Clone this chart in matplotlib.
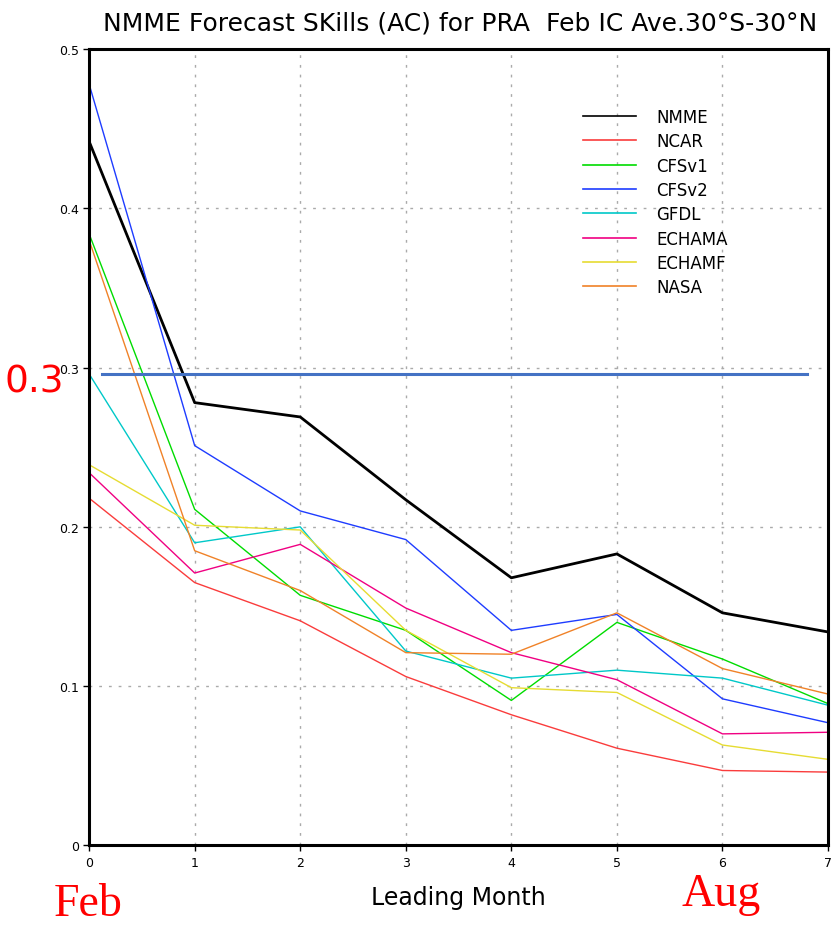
import numpy as np
import matplotlib.pyplot as plt

plt.rcParams['font.family'] = ['DejaVu Sans']

# lead months and AC skill per model
leads = [0, 1, 2, 3, 4, 5, 6, 7]
nmme = [0.442, 0.278, 0.269, 0.217, 0.168, 0.183, 0.146, 0.134]
ncar = [0.218, 0.165, 0.141, 0.106, 0.082, 0.061, 0.047, 0.046]
cfsv1 = [0.384, 0.211, 0.157, 0.135, 0.091, 0.140, 0.117, 0.089]
cfsv2 = [0.478, 0.251, 0.210, 0.192, 0.135, 0.145, 0.092, 0.077]
gfdl = [0.296, 0.190, 0.200, 0.122, 0.105, 0.110, 0.105, 0.088]
echama = [0.234, 0.171, 0.189, 0.149, 0.121, 0.104, 0.070, 0.071]
echamf = [0.239, 0.201, 0.198, 0.135, 0.099, 0.096, 0.063, 0.054]
nasa = [0.380, 0.185, 0.160, 0.121, 0.120, 0.146, 0.111, 0.095]

models = ['NMME', 'NCAR', 'CFSv1', 'CFSv2', 'GFDL', 'ECHAMA', 'ECHAMF', 'NASA']
series = [nmme, ncar, cfsv1, cfsv2, gfdl, echama, echamf, nasa]
colors = ['black', '#fa3c3c', '#00dc00', '#1e3cff', '#00c8c8', '#f00082', '#e6dc32', '#f08228']

# hand-drawn reference line at 0.3
ref_x = [0.12, 6.8]
ref_y = [0.296, 0.296]

fig = plt.figure(figsize=(8.33, 9.28), dpi=100)
ax = fig.add_axes([0.107, 0.088, 0.887, 0.858])

for name, vals, c in zip(models, series, colors):
    lw = 2.0 if name == 'NMME' else 1.0
    ax.plot(leads, vals, color=c, lw=lw, label=name)

ax.plot(ref_x, ref_y, color='#4472c4', lw=2.2)

ax.set_xlim(0, 7)
ax.set_ylim(0, 0.5)
ax.set_xticks(leads)
ax.set_yticks([0, 0.1, 0.2, 0.3, 0.4, 0.5])
ax.set_yticklabels(['0', '0.1', '0.2', '0.3', '0.4', '0.5'])
ax.tick_params(labelsize=9, length=4, direction='out', width=1)
ax.grid(True, color='#aaaaaa', ls=(0, (2, 5)), lw=1)
for s in ax.spines.values():
    s.set_linewidth(2.2)

ax.set_xlabel('Leading Month', fontsize=17, labelpad=12)
fig.text(0.552, 0.975, 'NMME Forecast SKills (AC) for PRA  Feb IC Ave.30°S-30°N',
         ha='center', va='center', fontsize=18)

leg = ax.legend(loc='upper left', bbox_to_anchor=(0.648, 0.945), frameon=False,
                fontsize=12, handlelength=3.2, handletextpad=1.2, labelspacing=0.38)
for h in leg.get_lines():
    h.set_linewidth(1.2)

# red annotations
fig.text(0.006, 0.588, '0.3', color='red', fontsize=27, ha='left', va='center',
         family='DejaVu Sans')
fig.text(0.064, 0.025, 'Feb', color='red', fontsize=33, ha='left', va='center',
         family='Liberation Serif')
fig.text(0.818, 0.036, 'Aug', color='red', fontsize=33, ha='left', va='center',
         family='Liberation Serif')

plt.savefig('out.png')
